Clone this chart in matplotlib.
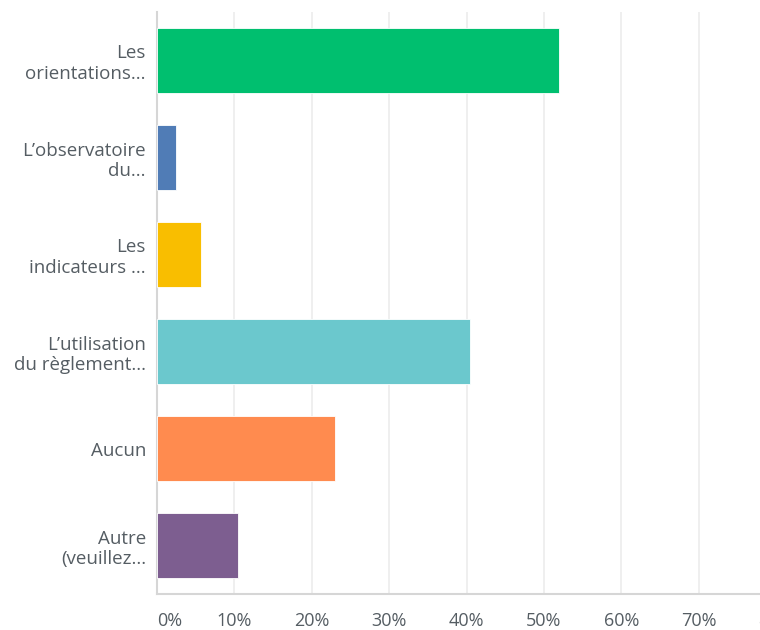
import matplotlib.pyplot as plt

# Survey answers (percent of respondents)
labels = ["Les\norientations...", "L\u2019observatoire\ndu...", "Les\nindicateurs ...",
          "L\u2019utilisation\ndu r\u00e8glement...", "Aucun", "Autre\n(veuillez..."]
values = [51.9, 2.4, 5.7, 40.4, 23.0, 10.5]
colors = ["#00bf6f", "#507cb6", "#f9be00", "#6bc8cd", "#ff8b4f", "#7d5e90"]
ticks = [0, 10, 20, 30, 40, 50, 60, 70, 80]
tick_labels = ["0%", "10%", "20%", "30%", "40%", "50%", "60%", "70%", "80%"]

plt.rcParams['font.family'] = ['Open Sans', 'DejaVu Sans']

fig = plt.figure(figsize=(7.6, 6.3), dpi=100)
ax = fig.add_axes([157 / 760, 36 / 630, 619 / 760, 582 / 630])

ypos = list(range(len(labels)))
ax.barh(ypos, values, height=0.66, color=colors, edgecolor="white",
        linewidth=0.6, zorder=3)

ax.set_xlim(0, 80)
ax.set_ylim(5.5, -0.5)
ax.set_yticks(ypos)
ax.set_yticklabels(labels, fontsize=13.5, color="#555d63", linespacing=1.2)
ax.set_xticks(ticks)
xl = ax.set_xticklabels(tick_labels, fontsize=13, color="#555d63")
xl[0].set_horizontalalignment('left')  # first label sits right of the axis
ax.tick_params(axis='both', length=0)
ax.tick_params(axis='y', pad=8)
ax.tick_params(axis='x', pad=13)

ax.grid(axis='x', color="#ececec", linewidth=1.2, zorder=0)
for side in ['top', 'right']:
    ax.spines[side].set_visible(False)
ax.spines['left'].set_color("#d6d6d6")
ax.spines['bottom'].set_color("#d6d6d6")
ax.spines['left'].set_linewidth(1.5)
ax.spines['bottom'].set_linewidth(1.5)

fig.savefig('out.png', dpi=100)
